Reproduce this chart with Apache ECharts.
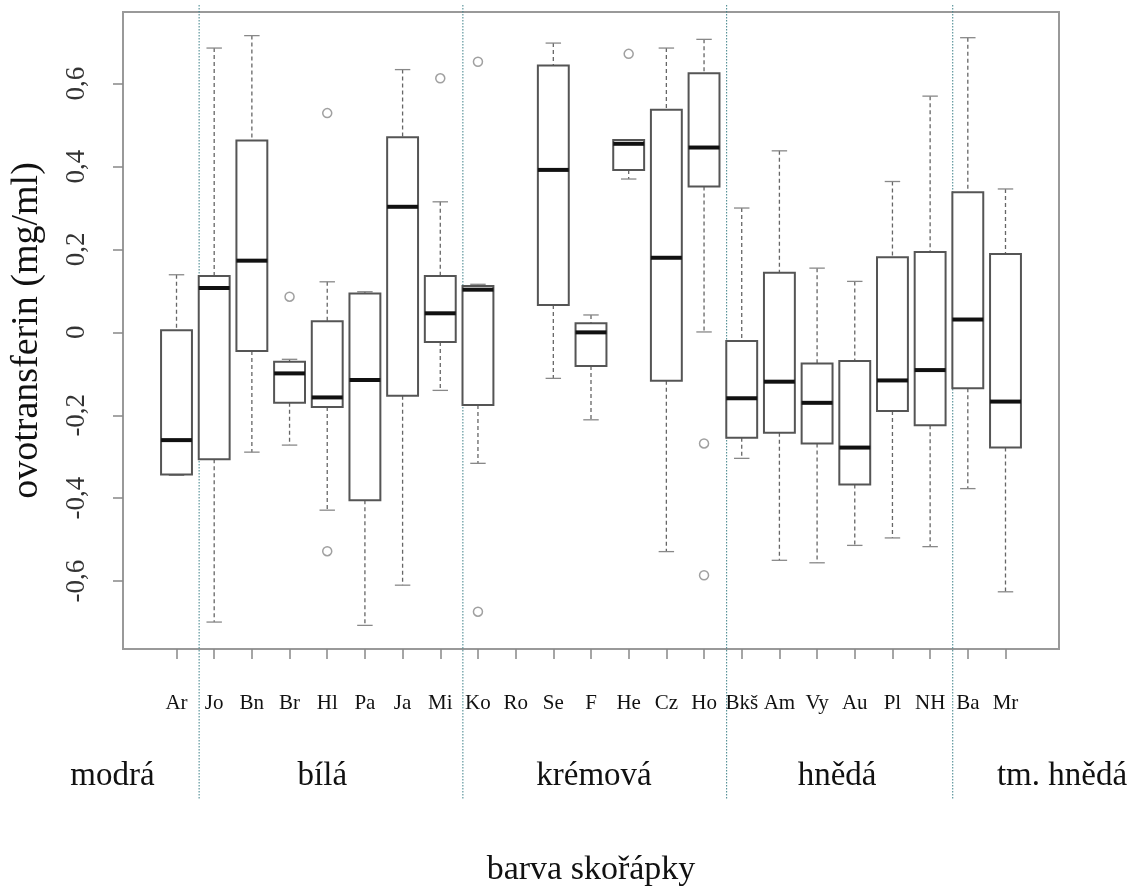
<!DOCTYPE html>
<html>
<head>
<meta charset="utf-8">
<title>ovotransferin</title>
<script src="https://cdn.jsdelivr.net/npm/echarts@6/dist/echarts.min.js"></script>
<style>
  html, body { margin: 0; padding: 0; background: #fff; }
  #chart { width: 1141px; height: 886px; }
</style>
</head>
<body>
<div id="chart"></div>
<script>
// plemena na ose x (Ro nemá data)
const breeds = ['Ar', 'Jo', 'Bn', 'Br', 'Hl', 'Pa', 'Ja', 'Mi', 'Ko', 'Ro', 'Se', 'F', 'He', 'Cz', 'Ho', 'Bkš', 'Am', 'Vy', 'Au', 'Pl', 'NH', 'Ba', 'Mr'];
// krabicové grafy: dolní vous, Q1, medián, Q3, horní vous
const whiskerLow = [-0.345, -0.699, -0.289, -0.272, -0.429, -0.707, -0.610, -0.140, -0.316, null, -0.111, -0.211, 0.370, -0.529, 0.001, -0.304, -0.550, -0.556, -0.514, -0.496, -0.517, -0.377, -0.626];
const q1 = [-0.343, -0.306, -0.045, -0.170, -0.180, -0.405, -0.153, -0.023, -0.175, null, 0.066, -0.081, 0.392, -0.117, 0.352, -0.254, -0.242, -0.268, -0.367, -0.190, -0.224, -0.135, -0.278];
const median = [-0.260, 0.107, 0.173, -0.099, -0.157, -0.115, 0.303, 0.046, 0.103, null, 0.392, 0.000, 0.455, 0.180, 0.446, -0.159, -0.119, -0.170, -0.278, -0.116, -0.091, 0.031, -0.167];
const q3 = [0.005, 0.136, 0.463, -0.071, 0.027, 0.094, 0.471, 0.136, 0.112, null, 0.644, 0.022, 0.464, 0.537, 0.625, -0.021, 0.144, -0.075, -0.069, 0.181, 0.194, 0.338, 0.189];
const whiskerHigh = [0.139, 0.686, 0.716, -0.065, 0.122, 0.098, 0.634, 0.315, 0.116, null, 0.698, 0.042, 0.464, 0.686, 0.707, 0.300, 0.438, 0.155, 0.123, 0.364, 0.570, 0.711, 0.346];
// odlehlé hodnoty: [pořadí plemene, hodnota]
const outliers = [[4, 0.086], [5, 0.529], [5, -0.528], [8, 0.613], [9, 0.653], [9, -0.674], [13, 0.672], [15, -0.268], [15, -0.586]];
const yTicks = [-0.6, -0.4, -0.2, 0, 0.2, 0.4, 0.6];
// skupiny podle barvy skořápky
const groups = ['modrá', 'bílá', 'krémová', 'hnědá', 'tm. hnědá'];
const groupPos = [-0.7, 4.87, 12.08, 18.53, 24.5];
const dividers = [1.6, 8.6, 15.6, 21.6];

const font = '"Liberation Serif", "DejaVu Serif", serif';

const boxData = [];
breeds.forEach((b, i) => {
  if (median[i] === null) return;
  boxData.push([i + 1, whiskerLow[i], q1[i], median[i], q3[i], whiskerHigh[i]]);
});

function renderBox(params, api) {
  const x = api.value(0);
  const lo = api.coord([x, api.value(1)]);
  const p1 = api.coord([x, api.value(2)]);
  const md = api.coord([x, api.value(3)]);
  const p3 = api.coord([x, api.value(4)]);
  const hi = api.coord([x, api.value(5)]);
  const half = api.size([1, 0])[0] * 0.41;
  const cap = half * 0.5;
  const cx = md[0];
  const dash = { stroke: '#666', lineWidth: 1.3, lineDash: [4, 3] };
  const capStyle = { stroke: '#888', lineWidth: 1.3 };
  return {
    type: 'group',
    children: [
      { type: 'line', shape: { x1: cx, y1: hi[1], x2: cx, y2: p3[1] }, style: dash },
      { type: 'line', shape: { x1: cx, y1: p1[1], x2: cx, y2: lo[1] }, style: dash },
      { type: 'line', shape: { x1: cx - cap, y1: hi[1], x2: cx + cap, y2: hi[1] }, style: capStyle },
      { type: 'line', shape: { x1: cx - cap, y1: lo[1], x2: cx + cap, y2: lo[1] }, style: capStyle },
      { type: 'rect', shape: { x: cx - half, y: p3[1], width: half * 2, height: p1[1] - p3[1] },
        style: { fill: '#fff', stroke: '#555', lineWidth: 2 } },
      { type: 'line', shape: { x1: cx - half, y1: md[1], x2: cx + half, y2: md[1] },
        style: { stroke: '#111', lineWidth: 4 } }
    ]
  };
}

const chart = echarts.init(document.getElementById('chart'));
const option = {
  animation: false,
  backgroundColor: '#fff',
  grid: {
    left: 123, right: 82, top: 12, bottom: 237,
    containLabel: false,
    outerBoundsMode: 'none',
    show: true, borderColor: '#999', borderWidth: 2, backgroundColor: 'transparent'
  },
  xAxis: {
    type: 'value',
    min: -0.42, max: 24.42,
    name: 'barva skořápky',
    nameLocation: 'middle',
    nameGap: 204,
    nameTextStyle: { fontFamily: font, fontSize: 34, color: '#111' },
    axisLine: { show: false, onZero: false },
    splitLine: { show: false },
    axisTick: { show: true, length: 10, lineStyle: { color: '#888', width: 1.5 },
      customValues: breeds.map((b, i) => i + 1) },
    axisLabel: {
      customValues: breeds.map((b, i) => i + 1),
      formatter: v => breeds[v - 1],
      margin: 44,
      fontFamily: font, fontSize: 21, color: '#111'
    }
  },
  yAxis: {
    type: 'value',
    min: -0.764, max: 0.773,
    name: 'ovotransferin (mg/ml)',
    nameLocation: 'middle',
    nameGap: 77,
    nameRotate: 90,
    nameTextStyle: { fontFamily: font, fontSize: 38, color: '#111' },
    axisLine: { show: false, onZero: false },
    splitLine: { show: false },
    axisTick: { show: true, length: 10, lineStyle: { color: '#888', width: 1.5 }, customValues: yTicks },
    axisLabel: {
      customValues: yTicks,
      rotate: 90,
      margin: 33,
      formatter: v => String(v).replace('.', ','),
      fontFamily: font, fontSize: 27, color: '#333'
    }
  },
  series: [
    {
      type: 'custom',
      clip: false,
      silent: true,
      data: dividers.map(d => [d]),
      renderItem: (params, api) => {
        const x = api.coord([api.value(0), 0])[0];
        return { type: 'line', shape: { x1: x, y1: 5, x2: x, y2: 800 },
          style: { stroke: '#3d8088', lineWidth: 1, lineDash: [1.5, 1.5] } };
      },
      z: 1
    },
    {
      type: 'custom',
      data: boxData,
      encode: { x: 0, y: [1, 2, 3, 4, 5] },
      renderItem: renderBox,
      z: 3
    },
    {
      type: 'scatter',
      data: outliers,
      symbol: 'circle',
      symbolSize: 9,
      itemStyle: { color: '#fff', borderColor: '#888', borderWidth: 1.5 },
      z: 4
    },
    {
      type: 'custom',
      clip: false,
      silent: true,
      data: groupPos.map(p => [p]),
      renderItem: (params, api) => {
        const x = api.coord([api.value(0), 0])[0];
        return { type: 'text', x: x, y: 776,
          style: { text: groups[params.dataIndex], fontFamily: font, fontSize: 33,
            fill: '#111', align: 'center', verticalAlign: 'middle' } };
      }
    }
  ]
};
chart.setOption(option);
</script>
</body>
</html>
